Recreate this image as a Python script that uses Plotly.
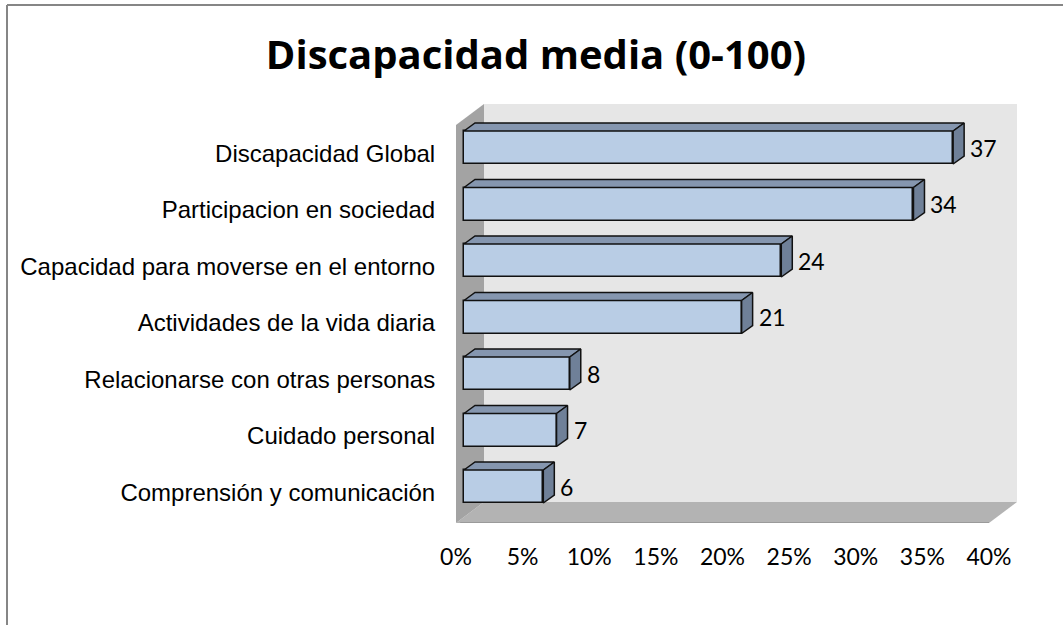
import plotly.graph_objects as go

# ---------------- data ----------------
categories = [
    "Discapacidad Global",
    "Participacion en sociedad",
    "Capacidad para moverse en el entorno",
    "Actividades de la vida diaria",
    "Relacionarse con otras personas",
    "Cuidado personal",
    "Comprensión y comunicación",
]
values = [37, 34, 24, 21, 8, 7, 6]
tick_vals = [0, 5, 10, 15, 20, 25, 30, 35, 40]
tick_text = ["0%", "5%", "10%", "15%", "20%", "25%", "30%", "35%", "40%"]
title_text = "Discapacidad media (0-100)"

# ---------------- geometry ----------------
W_FIG, H_FIG = 1063, 625
L, R, T, B = 456, 1017, 104, 523          # plot area (pixels)
XMAX = 40
PX_PER_X = (989 - 456) / XMAX            # front-plane scale
PX_PER_X_BAR = 13.22                      # bar-plane scale (slightly further back)
PX_PER_Y = 56.5                           # px per category
DEPTH_PX = (28, 21)                       # full depth offset (right, up)
BAR_SHIFT_PX = (8, 6)                     # bar plane offset from front plane
BAR_DEPTH_PX = (11, 8)                    # bar thickness in depth
BAR_W = 33 / PX_PER_Y
LABEL_TOP_PX = 153.5                      # front-plane center of first category

DX = DEPTH_PX[0] / PX_PER_X
DY = DEPTH_PX[1] / PX_PER_Y
x_range = [0, (R - L) / PX_PER_X]
y_top = -(LABEL_TOP_PX - T) / PX_PER_Y
y_bot = y_top + (B - T) / PX_PER_Y
x2_range = [-BAR_SHIFT_PX[0] / PX_PER_X_BAR, (R - L - BAR_SHIFT_PX[0]) / PX_PER_X_BAR]
sy = BAR_SHIFT_PX[1] / PX_PER_Y
y2_top, y2_bot = y_top + sy, y_bot + sy
bdx = BAR_DEPTH_PX[0] / PX_PER_X_BAR
bdy = BAR_DEPTH_PX[1] / PX_PER_Y

idx = list(range(len(categories)))

FRONT = "#b9cde5"
TOPC = "#8596af"
SIDE = "#6f8098"
EDGE = "#111111"

fig = go.Figure()

# top and side faces
tx, ty, rx, ry = [], [], [], []
for i, v in zip(idx, values):
    y0 = i - BAR_W / 2
    y1 = i + BAR_W / 2
    tx += [0, v, v + bdx, bdx, 0, None]
    ty += [y0, y0, y0 - bdy, y0 - bdy, y0, None]
    rx += [v, v + bdx, v + bdx, v, v, None]
    ry += [y0, y0 - bdy, y1 - bdy, y1, y0, None]

fig.add_trace(go.Scatter(x=tx, y=ty, mode="lines", fill="toself", fillcolor=TOPC,
                         line=dict(color=EDGE, width=1.5), xaxis="x2", yaxis="y2",
                         hoverinfo="skip", showlegend=False))
fig.add_trace(go.Scatter(x=rx, y=ry, mode="lines", fill="toself", fillcolor=SIDE,
                         line=dict(color=EDGE, width=1.5), xaxis="x2", yaxis="y2",
                         hoverinfo="skip", showlegend=False))
fig.add_trace(go.Bar(x=values, y=idx, orientation="h", width=BAR_W,
                     marker=dict(color=FRONT, line=dict(color=EDGE, width=1.5)),
                     xaxis="x2", yaxis="y2", showlegend=False,
                     customdata=categories, hovertemplate="%{customdata}: %{x}<extra></extra>"))

# data labels
for i, v in zip(idx, values):
    fig.add_annotation(x=v + bdx, y=i, xref="x2", yref="y2", text=str(v),
                       showarrow=False, xanchor="left", yanchor="middle", xshift=4,
                       font=dict(family="Lato", size=23, color="#000000"))

# walls (front axes coords)
yff = y_bot            # floor front edge
yfb = y_bot - DY       # floor back edge
shapes = [
    dict(type="rect", xref="x", yref="y", x0=DX, x1=XMAX + DX, y0=y_top, y1=yfb,
         fillcolor="#e6e6e6", line=dict(width=0), layer="below"),
    dict(type="path", xref="x", yref="y",
         path=f"M 0 {yff} L {XMAX} {yff} L {XMAX + DX} {yfb} L {DX} {yfb} Z",
         fillcolor="#b3b3b3", line=dict(width=0), layer="below"),
    dict(type="path", xref="x", yref="y",
         path=f"M 0 {yff} L 0 {y_top + DY} L {DX} {y_top} L {DX} {yfb} Z",
         fillcolor="#a3a3a3", line=dict(width=0), layer="below"),
    dict(type="line", xref="x", yref="y", x0=DX * 0.15, x1=XMAX, y0=yff, y1=yff,
         line=dict(color="#9a9a9a", width=2), layer="below"),
    # outer chart border (top and left)
    dict(type="line", xref="paper", yref="paper",
         x0=(7 - L) / (R - L), x1=(W_FIG + 5 - L) / (R - L),
         y0=1 + (T - 5) / (B - T), y1=1 + (T - 5) / (B - T),
         line=dict(color="#868686", width=2)),
    dict(type="line", xref="paper", yref="paper",
         x0=(7 - L) / (R - L), x1=(7 - L) / (R - L),
         y0=1 + (T - 5) / (B - T), y1=-(H_FIG + 5 - B) / (B - T),
         line=dict(color="#868686", width=2)),
]

fig.update_layout(
    width=W_FIG, height=H_FIG,
    margin=dict(l=L, r=W_FIG - R, t=T, b=H_FIG - B),
    paper_bgcolor="white", plot_bgcolor="rgba(0,0,0,0)",
    shapes=shapes,
    title=dict(text=f"<b>{title_text}</b>", x=536 / W_FIG, xanchor="center",
               y=1 - 55 / H_FIG, yanchor="middle",
               font=dict(family="Open Sans", size=40, color="#000000")),
    xaxis=dict(range=x_range, tickvals=tick_vals, ticktext=tick_text,
               showgrid=False, zeroline=False, showline=False,
               ticks="outside", ticklen=13, tickcolor="rgba(0,0,0,0)",
               tickfont=dict(family="Lato", size=23, color="#000000"), fixedrange=True),
    yaxis=dict(range=[y_bot, y_top], tickvals=idx, ticktext=categories,
               showgrid=False, zeroline=False, showline=False,
               ticks="outside", ticklen=15, tickcolor="rgba(0,0,0,0)",
               tickfont=dict(family="Liberation Sans", size=24, color="#000000"), fixedrange=True),
    xaxis2=dict(range=x2_range, overlaying="x", anchor="y2", visible=False, fixedrange=True),
    yaxis2=dict(range=[y2_bot, y2_top], overlaying="y", anchor="x2", visible=False, fixedrange=True),
    bargap=0,
)

fig.write_html("out.html", config={"displayModeBar": False},
               post_script="document.body.style.margin='0';document.body.style.overflow='hidden';")
